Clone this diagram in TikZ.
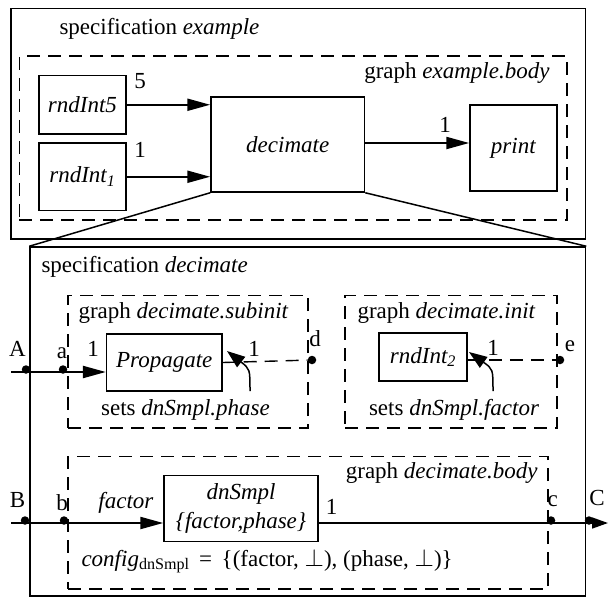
\documentclass[tikz,border=0pt]{standalone}
\usepackage{fontspec}
\setmainfont{Liberation Serif}
\usetikzlibrary{arrows.meta}

\tikzset{
  specbox/.style={draw, line width=1.5pt, inner sep=0pt},
  graphbox/.style={draw, line width=1.4pt, dash pattern=on 13pt off 8pt, inner sep=0pt},
  blockbox/.style={draw, line width=1.5pt, inner sep=0pt, align=center},
  portdot/.style={circle, fill, inner sep=0pt, minimum size=8.5pt},
  flowarrow/.style={line width=2.2pt, -{Triangle[length=23pt,width=12pt]}},
  outarrow/.style={line width=1.6pt, -{Triangle[length=16pt,width=11pt]}},
  curvearrow/.style={line width=1.5pt, -{Triangle[length=18pt,width=13pt]}},
  initline/.style={line width=1.4pt, dash pattern=on 13pt off 8pt}
}

\begin{document}
\begin{tikzpicture}[x=1pt,y=-1pt,font=\fontsize{23}{27}\selectfont]
  \useasboundingbox (0,0) rectangle (608,598);

  % Top level specification
  \node[specbox, minimum width=574.6pt, minimum height=230.6pt] (specExample) at (298.2,123.7) {};
  \node[anchor=west] (specExampleLbl) at (56,28.6) {specification \textit{example}};
  \node[graphbox, minimum width=547.6pt, minimum height=164pt] (exampleBody) at (293.2,138) {};
  \node[anchor=east] (exampleBodyLbl) at (553,73) {graph \textit{example.body}};

  % Actors of example.body
  \node[blockbox, minimum width=87.2pt, minimum height=58.5pt] (rndIntFive) at (82.4,104.75) {\textit{rndInt5}};
  \node[blockbox, minimum width=87.2pt, minimum height=67.5pt] (rndIntOne) at (82.4,176.75) {\textit{rndInt\textsubscript{1}}};
  \node[blockbox, minimum width=153.5pt, minimum height=95pt] (decimate) at (287.75,144.5) {\textit{decimate}};
  \node[blockbox, minimum width=87pt, minimum height=86pt] (print) at (513.5,148) {\textit{print}};

  \draw[flowarrow] (rndIntFive) -- (rndIntFive -| decimate.west);
  \draw[flowarrow] (rndIntOne) -- (rndIntOne -| decimate.west);
  \draw[flowarrow] (decimate.east |- 0,143) -- (print.west |- 0,143);
  \node (rateFive) at (140,81) {5};
  \node (rateOne) at (140,150) {1};
  \node (ratePrint) at (445,125) {1};

  % Refinement of decimate
  \node[specbox, minimum width=555.5pt, minimum height=349pt] (specDecimate) at (307.75,421.5) {};
  \draw[line width=1.5pt] (decimate.south west) -- (specDecimate.north west);
  \draw[line width=1.5pt] (decimate.south east) -- (specDecimate.north east);
  \node[anchor=west] (specDecimateLbl) at (38,267) {specification \textit{decimate}};

  % Subinit graph
  \node[graphbox, minimum width=240pt, minimum height=132.5pt] (subinit) at (188,361.75) {};
  \node[anchor=west] (subinitLbl) at (75,313) {graph \textit{decimate.subinit}};
  \node[blockbox, minimum width=115.4pt, minimum height=57pt] (propagate) at (164.3,362.5) {\textit{Propagate}};
  \node (setsPhase) at (185.5,410) {sets \textit{dnSmpl.phase}};

  \coordinate (inA) at (11,372);
  \draw[flowarrow] (inA) -- (inA -| propagate.west);
  \node[portdot] (dotA) at (26,369.5) {};
  \node[portdot] (dota) at (63,369.5) {};
  \node (lblA) at (17.5,349) {A};
  \node (lbla) at (62,353) {a};
  \node (rateProp) at (93,349) {1};

  \node[portdot] (dotd) at (312,360) {};
  \draw[initline] (propagate.east) -- (dotd);
  \node (lbld) at (315,339) {d};
  \node (ratePropOut) at (254,349) {1};
  \coordinate (tailProp) at (250,391);
  \coordinate (tipProp) at (227,351);
  \draw[curvearrow] (tailProp) .. controls (250,369) .. (tipProp);

  % Init graph
  \node[graphbox, minimum width=212pt, minimum height=132.5pt] (init) at (451,361.75) {};
  \node[anchor=west] (initLbl) at (354,313) {graph \textit{decimate.init}};
  \node[blockbox, minimum width=88pt, minimum height=48pt] (rndIntTwo) at (423,357) {\textit{rndInt\textsubscript{2}}};
  \node (setsFactor) at (454,410) {sets \textit{dnSmpl.factor}};

  \node[portdot] (dote) at (560,360) {};
  \draw[initline] (rndIntTwo.east |- dote) -- (dote);
  \node (lble) at (570,346) {e};
  \node (rateRndTwo) at (493,348) {1};
  \coordinate (tailRnd) at (493,391);
  \coordinate (tipRnd) at (469,352);
  \draw[curvearrow] (tailRnd) .. controls (493,369) .. (tipRnd);

  % Body graph
  \node[graphbox, minimum width=480pt, minimum height=132.5pt] (decimateBody) at (308,522.75) {};
  \node[anchor=east] (decimateBodyLbl) at (541,473) {graph \textit{decimate.body}};
  \node[blockbox, minimum width=154pt, minimum height=66pt] (dnSmpl) at (241,508.6) {\textit{dnSmpl}\\[2pt] \textit{\{factor,phase\}}};

  \coordinate (inB) at (11,523);
  \coordinate (outC) at (608,523);
  \draw[flowarrow] (inB) -- (inB -| dnSmpl.west);
  \draw[outarrow] (dnSmpl.east |- inB) -- (outC);
  \node[portdot] (dotB) at (25,520.5) {};
  \node[portdot] (dotb) at (64,520.5) {};
  \node[portdot] (dotc) at (551,520.5) {};
  \node[portdot] (dotC) at (589,520.5) {};
  \node (lblB) at (17.5,500) {B};
  \node (lblb) at (62,503) {b};
  \node (lblFactor) at (126,503) {\textit{factor}};
  \node (rateDn) at (331.5,507) {1};
  \node (lblc) at (552.6,501.5) {c};
  \node (lblC) at (597,498) {C};
  \node[anchor=west] (configLbl) at (78,561) {\textit{config}\textsubscript{dnSmpl} \,=\, \{(factor, $\bot$), (phase, $\bot$)\}};
\end{tikzpicture}
\end{document}
